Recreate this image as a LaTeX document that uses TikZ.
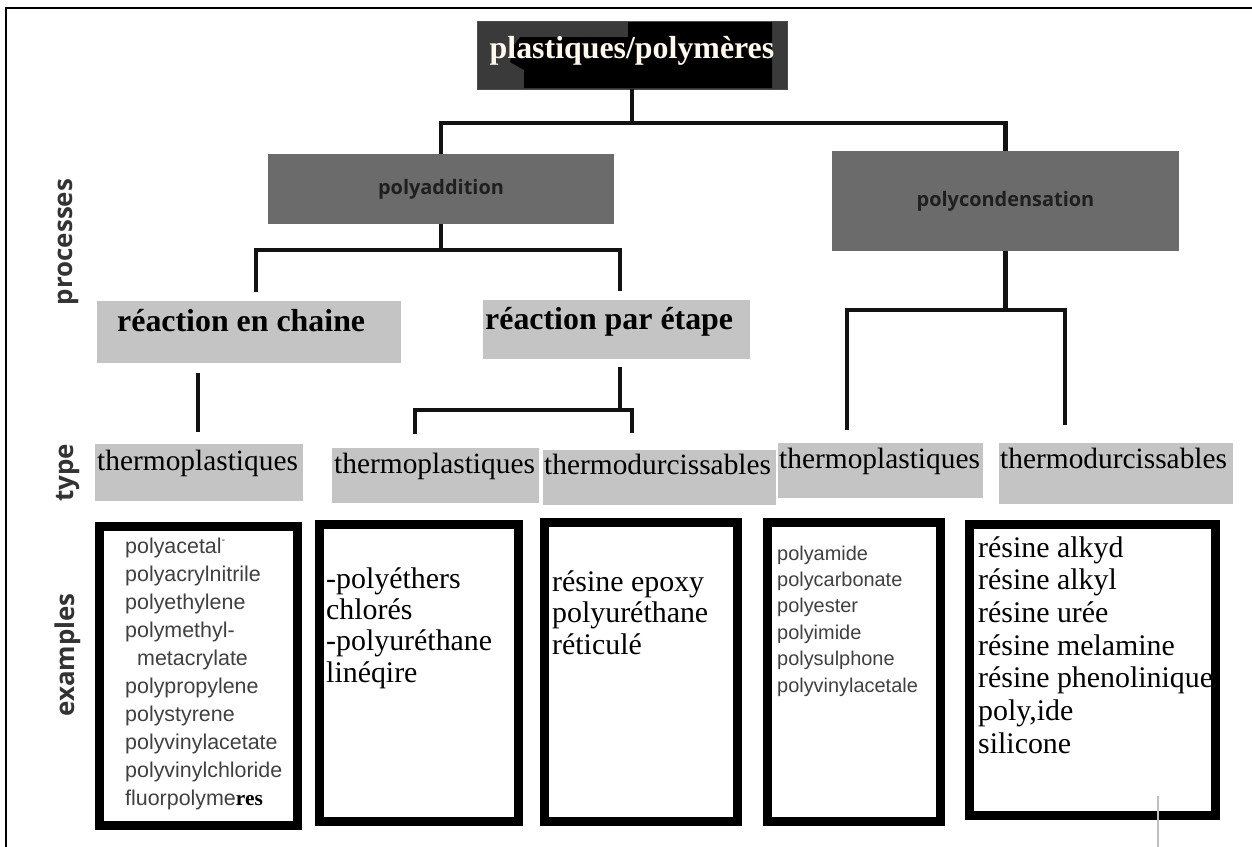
\documentclass[tikz,border=0pt]{standalone}
\usepackage{fontspec}
\setmainfont{Liberation Serif}
\newfontfamily\labelsans{Open Sans}
\newfontfamily\listsans{Liberation Sans}

\definecolor{rootgray}{HTML}{3A3A3A}
\definecolor{procgray}{HTML}{6B6B6B}
\definecolor{boxgray}{HTML}{C4C4C4}
\definecolor{listgray}{HTML}{404040}
\definecolor{sidegray}{HTML}{333333}
\definecolor{roottext}{HTML}{FFF8EC}

\tikzset{
  box/.style={anchor=north west, inner sep=0pt, outer sep=0pt},
  rootbox/.style={box, fill=rootgray, draw=black!70, line width=0.8bp},
  procbox/.style={box, fill=procgray},
  graybox/.style={box, fill=boxgray},
  exbox/.style={box, draw=black, line width=9bp, fill=white},
  conn/.style={line width=4.5bp, draw=black!93},
  typetext/.style={anchor=base west, inner sep=0pt, font=\fontsize{29.5}{32}\selectfont},
  reacttext/.style={anchor=base west, inner sep=0pt, font=\bfseries\fontsize{32}{34}\selectfont},
  proctext/.style={inner sep=0pt, text=black!88, font=\labelsans\bfseries\fontsize{20}{22}\selectfont},
  sidelabel/.style={rotate=90, inner sep=0pt, text=sidegray, font=\labelsans\bfseries\fontsize{26}{28}\selectfont},
  serifwords/.style={anchor=base west, inner sep=0pt},
  sanswords/.style={anchor=base west, inner sep=0pt, text=listgray},
}

\begin{document}
\begin{tikzpicture}[x=1bp, y=-1bp]
\useasboundingbox (0,0) rectangle (1252,847);
\fill[white] (0,0) rectangle (1252,847);

% outer frame (top and left edges)
\draw[line width=1.5bp] (6,847) -- (6,8) -- (1252,8);

% ---------- root ----------
\node[rootbox, minimum width=310bp, minimum height=68bp] (root) at (477,21) {};
\fill[black] (520,37) -- (628,37) -- (628,22) -- (772,22) -- (772,88)
  -- (524,88) -- (524,70) -- (510,62) -- (514,45) -- cycle;
\node[inner sep=0pt, anchor=base, text=roottext,
      font=\bfseries\fontsize{32}{34}\selectfont] (roottxt) at (632,58) {plastiques/polymères};

% ---------- processes ----------
\node[procbox, minimum width=346bp, minimum height=70bp] (padd) at (268,154) {};
\node[proctext] (paddtxt) at (padd.center) {polyaddition};
\node[procbox, minimum width=347bp, minimum height=100bp] (pcond) at (832,151) {};
\node[proctext] (pcondtxt) at (pcond.center) {polycondensation};

\node[graybox, minimum width=304bp, minimum height=62bp] (chaine) at (97,301) {};
\node[reacttext] (chainetxt) at (117,331) {réaction en chaine};
\node[graybox, minimum width=267bp, minimum height=59bp] (etape) at (483,300) {};
\node[reacttext] (etapetxt) at (485,329) {réaction par étape};

% ---------- types ----------
\node[graybox, minimum width=208bp, minimum height=57bp] (tp1) at (95,444) {};
\node[typetext] (tp1t) at (97,470) {thermoplastiques};
\node[graybox, minimum width=207bp, minimum height=55bp] (tp2) at (332,448) {};
\node[typetext] (tp2t) at (334,473) {thermoplastiques};
\node[graybox, minimum width=233bp, minimum height=55bp] (td1) at (543,450) {};
\node[typetext] (td1t) at (544,474) {thermodurcissables};
\node[graybox, minimum width=205bp, minimum height=55bp] (tp3) at (778,443) {};
\node[typetext] (tp3t) at (779,468) {thermoplastiques};
\node[graybox, minimum width=234bp, minimum height=61bp] (td2) at (999,443) {};
\node[typetext] (td2t) at (1000,468) {thermodurcissables};

% ---------- example boxes ----------
\node[exbox, minimum width=198bp, minimum height=299bp] (ex1) at (99.5,526.5) {};
\node[exbox, minimum width=199bp, minimum height=297bp] (ex2) at (319.5,524.5) {};
\node[exbox, minimum width=193bp, minimum height=299bp] (ex3) at (544.5,522.5) {};
\node[exbox, minimum width=173bp, minimum height=299bp] (ex4) at (767.5,522.5) {};
\node[exbox, minimum width=246bp, minimum height=291bp] (ex5) at (969.5,524.5) {};

\node[sanswords, font=\listsans\fontsize{21.5}{28.2}\selectfont] (ex1t) at (125,553) {\vtop{%
  \hbox{polyacetal\raisebox{.45em}{\fontsize{11}{11}\selectfont -}}
  \hbox{polyacrylnitrile}
  \hbox{polyethylene}
  \hbox{polymethyl-}
  \hbox{\kern12bp metacrylate}
  \hbox{polypropylene}
  \hbox{polystyrene}
  \hbox{polyvinylacetate}
  \hbox{polyvinylchloride}
  \hbox{fluorpolyme{\rmfamily\bfseries\color{black}res}}}};

\node[serifwords, font=\fontsize{30}{31.5}\selectfont] (ex2t) at (326,588) {\vtop{%
  \hbox{-polyéthers}
  \hbox{chlorés}
  \hbox{-polyuréthane}
  \hbox{linéqire}}};

\node[serifwords, font=\fontsize{30}{32}\selectfont] (ex3t) at (552,591) {\vtop{%
  \hbox{résine epoxy}
  \hbox{polyuréthane}
  \hbox{réticulé}}};

\node[sanswords, font=\listsans\fontsize{20}{26.5}\selectfont] (ex4t) at (777,560) {\vtop{%
  \hbox{polyamide}
  \hbox{polycarbonate}
  \hbox{polyester}
  \hbox{polyimide}
  \hbox{polysulphone}
  \hbox{polyvinylacetale}}};

\node[serifwords, font=\fontsize{30}{32.8}\selectfont] (ex5t) at (978,557) {\vtop{%
  \hbox{résine alkyd}
  \hbox{résine alkyl}
  \hbox{résine urée}
  \hbox{résine melamine}
  \hbox{résine phenolinique}
  \hbox{poly,ide}
  \hbox{silicone}}};

% ---------- side labels ----------
\node[sidelabel] (lproc) at (68,242) {processes};
\node[sidelabel] (ltype) at (68,473) {type};
\node[sidelabel] (lex) at (68,655) {examples};

% ---------- connectors ----------
\coordinate (j0) at (root.south |- 0,123);
\draw[conn] (root.south) -- (j0);
\draw[conn] (padd.north) |- (j0) -| (pcond.north);

\coordinate (j1) at (padd.south |- 0,250);
\coordinate (chaineIn) at (256,292);
\coordinate (etapeIn) at (620,291);
\draw[conn] (padd.south) -- (j1);
\draw[conn] (chaineIn) |- (j1) -| (etapeIn);

\coordinate (chaineOut) at (198,373);
\coordinate (tp1In) at (198,432);
\draw[conn] (chaineOut) -- (tp1In);

\coordinate (etapeOut) at (620,367);
\coordinate (j2) at (620,410);
\coordinate (tp2In) at (415,434);
\coordinate (td1In) at (632,433);
\draw[conn] (etapeOut) -- (j2);
\draw[conn] (tp2In) |- (j2) -| (td1In);

\coordinate (j3) at (pcond.south |- 0,310);
\coordinate (tp3In) at (847,430);
\coordinate (td2In) at (1065,425);
\draw[conn] (pcond.south) -- (j3);
\draw[conn] (tp3In) |- (j3) -| (td2In);

% faint guide stub below the last box
\draw[black!25, line width=1.5bp] (1158,796) -- (1158,847);
\end{tikzpicture}
\end{document}
